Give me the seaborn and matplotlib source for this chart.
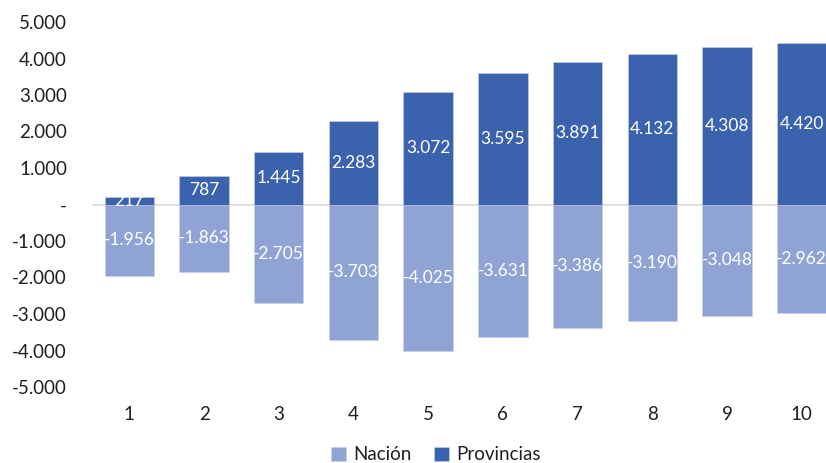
import matplotlib
matplotlib.use("Agg")
import matplotlib.pyplot as plt
import seaborn as sns
import pandas as pd

# Data
periodos = [1, 2, 3, 4, 5, 6, 7, 8, 9, 10]
nacion = [-1956, -1863, -2705, -3703, -4025, -3631, -3386, -3190, -3048, -2962]
provincias = [217, 787, 1445, 2283, 3072, 3595, 3891, 4132, 4308, 4420]
series = ["Nación", "Provincias"]
y_ticks = [-5000, -4000, -3000, -2000, -1000, 0, 1000, 2000, 3000, 4000, 5000]

colors = {"Nación": "#8FA4D5", "Provincias": "#3B63AD"}

df = pd.DataFrame({
    "periodo": [str(p) for p in periodos] * 2,
    "serie": [series[0]] * len(periodos) + [series[1]] * len(periodos),
    "valor": nacion + provincias,
})

sns.set_theme(style="white")
plt.rcParams["font.family"] = ["Lato", "DejaVu Sans"]

W, H = 826, 463
fig = plt.figure(figsize=(W / 100, H / 100), dpi=100)
# plot area in pixel coordinates: left 92, right 839, top 22, bottom 387
ax = fig.add_axes([92 / W, 1 - 387 / H, (839 - 92) / W, (387 - 22) / H])


def fmt(v):
    if v == 0:
        return "-"
    return f"{v:,.0f}".replace(",", ".")


ax.axhline(0, color="#D9D9D9", lw=1.2, zorder=1)

sns.barplot(data=df, x="periodo", y="valor", hue="serie", hue_order=series,
            palette=colors, saturation=1, dodge=False, width=0.66, ax=ax,
            zorder=2, edgecolor="#C9D3EA", linewidth=0.4)

for container in ax.containers:
    ax.bar_label(container, labels=[fmt(v) for v in container.datavalues],
                 label_type="center", color="white", fontsize=12.5)

ax.set_ylim(-5000, 5000)
ax.set_yticks(y_ticks)
ax.set_yticklabels([fmt(v) for v in y_ticks])
ax.set_xlabel("")
ax.set_ylabel("")
for s in ax.spines.values():
    s.set_visible(False)
# y tick labels end about 25 px left of the plot area
ax.tick_params(axis="y", length=0, pad=18, labelsize=13.5, labelcolor="#1F1F1F")
ax.tick_params(axis="x", length=0, pad=14, labelsize=13.5, labelcolor="#1F1F1F")

handles, labels = ax.get_legend_handles_labels()
ax.legend_.remove()
fig.legend(handles, labels, loc="center", bbox_to_anchor=(436 / W, 1 - 455 / H),
           ncol=2, frameon=False, fontsize=13.5, handlelength=0.8, handleheight=0.8,
           handletextpad=0.4, columnspacing=1.2, labelcolor="#1F1F1F")

fig.savefig("out.png", dpi=100)
